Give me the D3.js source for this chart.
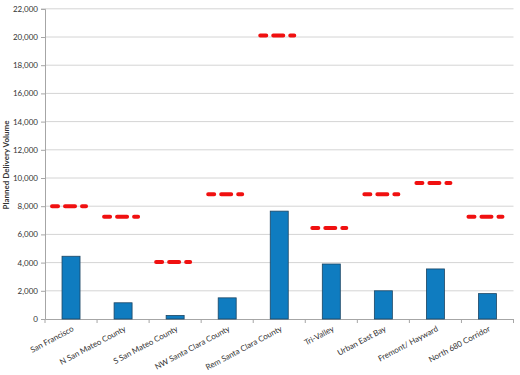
<!DOCTYPE html>
<html>
<head>
<meta charset="utf-8">
<script src="https://cdn.jsdelivr.net/npm/d3@7"></script>
<style>
  body { margin: 0; background: #fff; }
  svg text { font-family: Lato, "Open Sans", sans-serif; fill: #333; }
</style>
</head>
<body>
<div id="chart"></div>
<script>
var categories = ["San Francisco", "N San Mateo County", "S San Mateo County",
                  "NW Santa Clara County", "Rem Santa Clara County", "Tri-Valley",
                  "Urban East Bay", "Fremont/ Hayward", "North 680 Corridor"];
var deliveries = [4450, 1150, 250, 1500, 7650, 3900, 2000, 3550, 1800];
var targets = [8000, 7250, 4050, 8850, 20100, 6450, 8850, 9650, 7250];
var yTicks = [0, 2000, 4000, 6000, 8000, 10000, 12000, 14000, 16000, 18000, 20000, 22000];

var svg_width = 520, svg_height = 375;
var plot_left = 45, plot_right = 513.5, plot_top = 8.8, plot_bottom = 319;

var svg = d3.select('#chart').append('svg')
  .attr('width', svg_width)
  .attr('height', svg_height);

var x = d3.scaleBand().domain(categories).range([plot_left, plot_right]);
var y = d3.scaleLinear().domain([0, 22000]).range([plot_bottom, plot_top]);

// gridlines
svg.append('g').selectAll('line')
  .data(yTicks.slice(1))
  .enter().append('line')
  .attr('x1', plot_left).attr('x2', plot_right)
  .attr('y1', function(d) { return y(d); })
  .attr('y2', function(d) { return y(d); })
  .attr('stroke', '#d4d4d4').attr('stroke-width', 1);

// y axis
var yAxis = d3.axisLeft(y).tickValues(yTicks).tickSize(4).tickPadding(3)
  .tickFormat(d3.format(','));
var gy = svg.append('g').attr('transform', 'translate(' + plot_left + ',0)').call(yAxis);
gy.select('.domain').attr('stroke', '#a6a6a6');
gy.selectAll('.tick line').attr('stroke', '#a6a6a6');
gy.selectAll('.tick text').style('font-size', '8px').attr('fill', '#333');

// x axis
var xAxis = d3.axisBottom(x).tickSize(0).tickFormat('');
var gx = svg.append('g').attr('transform', 'translate(0,' + plot_bottom + ')').call(xAxis);
gx.select('.domain').attr('stroke', '#a6a6a6');
// boundary ticks
svg.append('g').selectAll('line')
  .data(d3.range(categories.length + 1))
  .enter().append('line')
  .attr('x1', function(i) { return plot_left + i * x.step(); })
  .attr('x2', function(i) { return plot_left + i * x.step(); })
  .attr('y1', plot_bottom).attr('y2', plot_bottom + 4)
  .attr('stroke', '#a6a6a6');

// category labels
svg.append('g').selectAll('text')
  .data(categories)
  .enter().append('text')
  .attr('transform', function(d) {
    return 'translate(' + (x(d) + x.bandwidth() / 2 + 2) + ',' + (plot_bottom + 9) + ') rotate(-28)';
  })
  .attr('text-anchor', 'end')
  .attr('dy', '0.35em')
  .style('font-size', '8px')
  .text(function(d) { return d; });

// bars
var bar_width = 18;
svg.append('g').selectAll('rect')
  .data(deliveries)
  .enter().append('rect')
  .attr('x', function(d, i) { return x(categories[i]) + x.bandwidth() / 2 - bar_width / 2; })
  .attr('y', function(d) { return y(d); })
  .attr('width', bar_width)
  .attr('height', function(d) { return plot_bottom - y(d); })
  .attr('fill', '#0f7cc0')
  .attr('stroke', '#1c4563')
  .attr('stroke-width', 0.8);

// target dashes
svg.append('g').selectAll('line')
  .data(targets)
  .enter().append('line')
  .attr('x1', function(d, i) { return x(categories[i]) + x.bandwidth() / 2 - 19; })
  .attr('x2', function(d, i) { return x(categories[i]) + x.bandwidth() / 2 + 19; })
  .attr('y1', function(d) { return y(d); })
  .attr('y2', function(d) { return y(d); })
  .attr('stroke', '#f01010')
  .attr('stroke-width', 4)
  .attr('stroke-linecap', 'round')
  .attr('stroke-dasharray', '6,7,10,7,4,20');

// axis title
svg.append('text')
  .attr('transform', 'translate(9,165) rotate(-90)')
  .attr('text-anchor', 'middle')
  .style('font-size', '8px')
  .style('font-weight', 'bold')
  .text('Planned Delivery Volume');
</script>
</body>
</html>
